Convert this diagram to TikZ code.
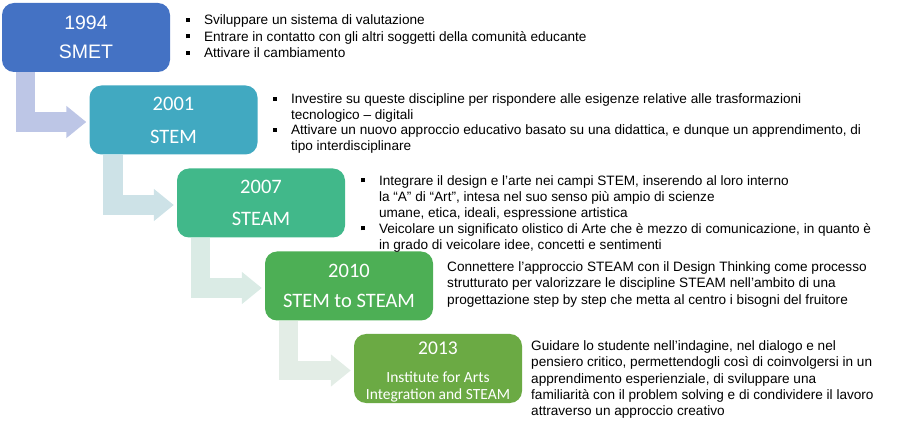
\documentclass[tikz,border=0pt]{standalone}
\usepackage{fontspec}
\setmainfont{Liberation Sans}
\newfontfamily\calib{Carlito}
\usetikzlibrary{arrows.meta,calc}

\definecolor{smetblue}{HTML}{4472C4}
\definecolor{stemteal}{HTML}{41A9C1}
\definecolor{steamgreen}{HTML}{41B88A}
\definecolor{tosteam}{HTML}{4DAF55}
\definecolor{iaisgreen}{HTML}{6BAA44}
\definecolor{arrA}{HTML}{BDC6E6}
\definecolor{arrB}{HTML}{CDE2E7}
\definecolor{arrC}{HTML}{DAEBE5}
\definecolor{arrD}{HTML}{E3EDE6}

\newcommand{\sq}{\rule[3.2pt]{3.8pt}{3.8pt}}

\tikzset{
  yearbox/.style={rounded corners=12pt, minimum width=168pt, minimum height=69pt,
    text=white, align=center, inner sep=0pt},
  bendarrow/.style={line width=19.5pt, -{Triangle[width=31pt,length=20pt]}},
  note/.style={anchor=base west, inner sep=0pt, font=\fontsize{13.6}{16.5}\selectfont}
}

\begin{document}
\begin{tikzpicture}[x=1pt,y=-1pt]
\useasboundingbox (0,0) rectangle (905,430);

% the five steps
\node [yearbox, fill=smetblue, font=\fontsize{19.5}{29}\selectfont] (smet) at (86,37.5) {1994\\SMET};
\node [yearbox, fill=stemteal, font=\calib\fontsize{20.5}{33}\selectfont] (stem) at (173.5,120) {2001\\STEM};
\node [yearbox, fill=steamgreen, font=\calib\fontsize{20.5}{32}\selectfont] (steam) at (261,203) {2007\\STEAM};
\node [yearbox, fill=tosteam, font=\calib\fontsize{20.5}{30}\selectfont] (tosteam) at (349,286) {2010\\STEM to STEAM};
\node [yearbox, fill=iaisgreen] (iais) at (438,368.5) {};
\node [text=white, align=center, inner sep=0pt, font=\calib\fontsize{15.5}{17}\selectfont] (iaistitle)
  at ($(iais.center)+(0,4)$) {{\fontsize{19.5}{20}\selectfont 2013}\\[11pt]Institute for Arts\\Integration and STEAM};

% bent arrows
\draw [bendarrow, arrA] ($(smet.south west)+(23.5,0)$) |- ($(stem.west)+(-3,2)$);
\draw [bendarrow, arrB] ($(stem.south west)+(23.5,0)$) |- ($(steam.west)+(-3,2)$);
\draw [bendarrow, arrC] ($(steam.south west)+(23.5,0)$) |- ($(tosteam.west)+(-3,2)$);
\draw [bendarrow, arrD] ($(tosteam.south west)+(23.5,0)$) |- ($(iais.west)+(-3,2)$);

% texts
\node [note] (smettxt) at (186,25) {\begin{tabular}[t]{@{}l@{\hspace{14pt}}l@{}}
\sq & Sviluppare un sistema di valutazione\\
\sq & Entrare in contatto con gli altri soggetti della comunità educante\\
\sq & Attivare il cambiamento
\end{tabular}};
\node [note, font=\fontsize{13.6}{15.5}\selectfont] (stemtxt) at (273,104) {\begin{tabular}[t]{@{}l@{\hspace{14pt}}l@{}}
\sq & Investire su queste discipline per rispondere alle esigenze relative alle trasformazioni\\
 & tecnologico – digitali\\
\sq & Attivare un nuovo approccio educativo basato su una didattica, e dunque un apprendimento, di\\
 & tipo interdisciplinare
\end{tabular}};
\node [note, font=\fontsize{13.6}{16}\selectfont] (steamtxt) at (361,185.5) {\begin{tabular}[t]{@{}l@{\hspace{14pt}}l@{}}
\sq & Integrare il design e l’arte nei campi STEM, inserendo al loro interno\\
 & la “A” di “Art”, intesa nel suo senso più ampio di scienze\\
 & umane, etica, ideali, espressione artistica\\
\sq & Veicolare un significato olistico di Arte che è mezzo di comunicazione, in quanto è\\
 & in grado di veicolare idee, concetti e sentimenti
\end{tabular}};
\node [note] (tosteamtxt) at (447,271.5) {\begin{tabular}[t]{@{}l@{}}
Connettere l’approccio STEAM con il Design Thinking come processo\\
strutturato per valorizzare le discipline STEAM nell’ambito di una\\
progettazione step by step che metta al centro i bisogni del fruitore
\end{tabular}};
\node [note] (iaistxt) at (531,350) {\begin{tabular}[t]{@{}l@{}}
Guidare lo studente nell’indagine, nel dialogo e nel\\
pensiero critico, permettendogli così di coinvolgersi in un\\
apprendimento esperienziale, di sviluppare una\\
familiarità con il problem solving e di condividere il lavoro\\
attraverso un approccio creativo
\end{tabular}};
\end{tikzpicture}
\end{document}
